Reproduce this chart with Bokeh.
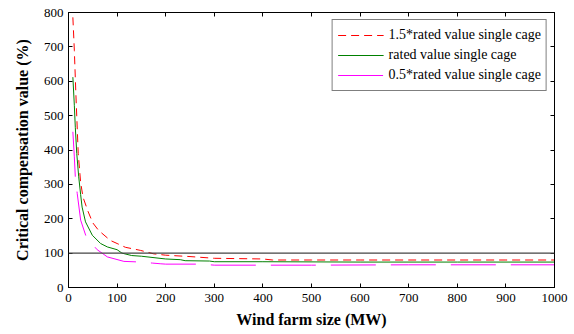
from bokeh.plotting import figure
from bokeh.models import Span, LinearAxis, FixedTicker, Range1d, CustomLabelingPolicy
from bokeh.embed import file_html
from bokeh.resources import INLINE

# Data
x_high = [9, 12, 15, 20, 25, 30, 40, 50, 62, 86, 100, 117, 148, 175, 200, 250, 300, 400, 420, 500, 600, 700, 800, 900, 1000]
y_high = [786, 690, 570, 390, 305, 262, 222, 188, 166, 137, 128, 117, 108, 98, 94, 90, 85, 83, 80, 80, 80, 80, 80, 80, 80]

x_rated = [9, 12, 14, 17, 21, 25, 28, 35, 49, 66, 80, 100, 110, 130, 150, 200, 230, 240, 290, 300, 400, 600, 800, 1000]
y_rated = [612, 530, 466, 390, 322, 270, 234, 191, 152, 128, 118, 110, 100, 93, 91, 83, 81, 78, 77, 75, 75, 74, 74, 74]

x_low = [9, 12, 14, 18, 25, 37, 59, 80, 114, 150, 173, 190, 200, 275, 300, 400, 500, 700, 1000]
y_low = [453, 380, 322, 273, 196, 145, 110, 89, 76, 74, 71, 69, 68, 68, 65, 65, 65, 66, 66]

threshold = 100
labels = ["1.5*rated value single cage", "rated value single cage", "0.5*rated value single cage"]
x_ticks = [0, 100, 200, 300, 400, 500, 600, 700, 800, 900, 1000]
y_ticks = [0, 100, 200, 300, 400, 500, 600, 700, 800]

FONT = "Liberation Serif"

p = figure(width=574, height=334, output_backend="svg", toolbar_location=None,
           x_range=Range1d(0, 1000), y_range=Range1d(0, 800),
           min_border_left=68, min_border_right=20, min_border_top=12, min_border_bottom=47)
p.xgrid.visible = False
p.ygrid.visible = False
p.outline_line_color = "black"
p.outline_line_width = 1
p.background_fill_color = "white"
p.border_fill_color = "white"

p.line(x_high, y_high, line_color="red", line_width=1, line_dash="8 5", legend_label=labels[0])
p.line(x_rated, y_rated, line_color="green", line_width=1, legend_label=labels[1])
p.line(x_low, y_low, line_color="magenta", line_width=1, line_dash="45 15", legend_label=labels[2])

p.add_layout(Span(location=threshold, dimension="width", line_color="#444444", line_width=1.2))

bottom_ax = p.below[0]
left_ax = p.left[0]
bottom_ax.axis_label = "Wind farm size (MW)"
left_ax.axis_label = "Critical compensation value (%)"
bottom_ax.major_label_standoff = 6
left_ax.major_label_standoff = 5
bottom_ax.axis_label_standoff = 6
left_ax.axis_label_standoff = 10

# Mirror ticks on top and right (no labels), like the reference frame
top_ax = LinearAxis(major_label_policy=CustomLabelingPolicy(code="if (false) { yield 0 }"),
                    major_label_text_font_size="1px", major_label_standoff=0)
right_ax = LinearAxis(major_label_policy=CustomLabelingPolicy(code="if (false) { yield 0 }"),
                      major_label_text_font_size="1px", major_label_standoff=0)
p.add_layout(top_ax, "above")
p.add_layout(right_ax, "right")

for ax in (bottom_ax, top_ax):
    ax.ticker = FixedTicker(ticks=x_ticks)
for ax in (left_ax, right_ax):
    ax.ticker = FixedTicker(ticks=y_ticks)
for ax in (bottom_ax, left_ax, top_ax, right_ax):
    ax.major_tick_in = 4
    ax.major_tick_out = 0
    ax.minor_tick_in = 0
    ax.minor_tick_out = 0
    ax.axis_line_color = "black"
for ax in (bottom_ax, left_ax):
    ax.major_label_text_font = FONT
    ax.major_label_text_font_size = "13px"
    ax.major_label_text_color = "black"
    ax.axis_label_text_font = FONT
    ax.axis_label_text_font_style = "bold"
    ax.axis_label_text_font_size = "16px"
    ax.axis_label_text_color = "black"

lg = p.legend[0]
lg.location = "top_right"
lg.label_text_font = FONT
lg.label_text_font_size = "14px"
lg.label_text_color = "black"
lg.border_line_color = "black"
lg.border_line_width = 1
lg.background_fill_alpha = 1
lg.glyph_width = 46
lg.glyph_height = 20
lg.label_height = 20
lg.label_standoff = 5
lg.spacing = 0
lg.padding = 5
lg.margin = 7

open("out.html", "w").write(file_html(p, INLINE))
